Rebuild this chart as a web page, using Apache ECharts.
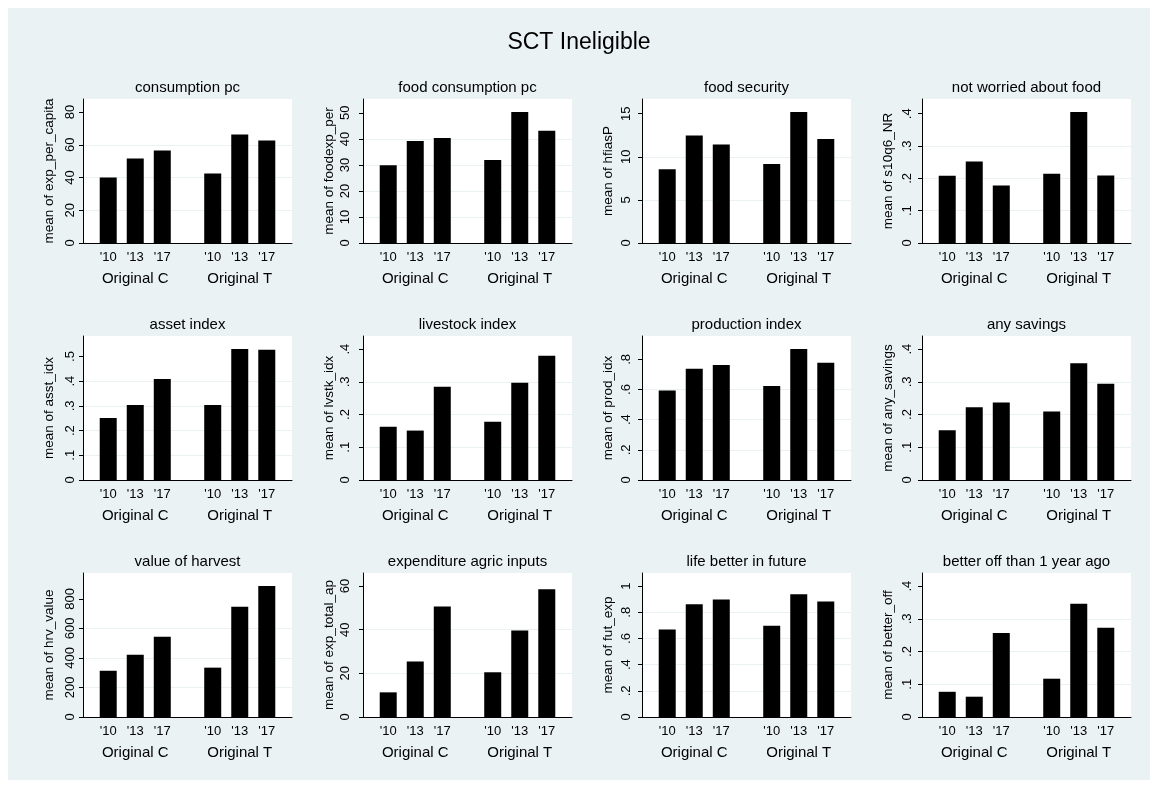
<!DOCTYPE html>
<html><head><meta charset="utf-8">
<script src="https://cdn.jsdelivr.net/npm/echarts@6/dist/echarts.min.js"></script>
<style>
html,body{margin:0;padding:0;background:#fff;width:1158px;height:787px;overflow:hidden}
#main{position:absolute;left:8px;top:8px;width:1142px;height:772px;}
</style>
</head><body><div id="main"></div>
<script>
const chartTitle = 'SCT Ineligible';
const years = ["'10", "'13", "'17"];
const groups = ['Original C', 'Original T'];
const panelTitles = ['consumption pc', 'food consumption pc', 'food security', 'not worried about food',
  'asset index', 'livestock index', 'production index', 'any savings',
  'value of harvest', 'expenditure agric inputs', 'life better in future', 'better off than 1 year ago'];
const yTitles = ['mean of exp_per_capita', 'mean of foodexp_per', 'mean of hfiasP', 'mean of s10q6_NR',
  'mean of asst_idx', 'mean of lvstk_idx', 'mean of prod_idx', 'mean of any_savings',
  'mean of hrv_value', 'mean of exp_total_ap', 'mean of fut_exp', 'mean of better_off'];

// values per panel: [Original C ['10,'13,'17], Original T ['10,'13,'17]]
const consumptionPc     = [[40.0, 51.6, 56.5], [42.4, 66.3, 62.7]];
const foodConsumptionPc = [[29.9, 39.2, 40.3], [31.9, 50.3, 43.1]];
const foodSecurity      = [[8.56, 12.46, 11.42], [9.18, 15.19, 12.07]];
const notWorried        = [[0.208, 0.252, 0.178], [0.214, 0.405, 0.209]];
const assetIndex        = [[0.251, 0.304, 0.409], [0.304, 0.530, 0.527]];
const livestockIndex    = [[0.163, 0.151, 0.285], [0.178, 0.297, 0.380]];
const productionIndex   = [[0.593, 0.738, 0.763], [0.624, 0.868, 0.778]];
const anySavings        = [[0.152, 0.222, 0.237], [0.209, 0.357, 0.294]];
const harvestValue      = [[313, 421, 543], [334, 746, 886]];
const agricInputs       = [[11.3, 25.4, 50.7], [20.5, 39.6, 58.5]];
const lifeBetter        = [[0.668, 0.861, 0.897], [0.698, 0.938, 0.882]];
const betterOff         = [[0.077, 0.062, 0.257], [0.117, 0.346, 0.273]];

// y-axis tick values and their labels
const ticksA = [0, 20, 40, 60, 80];           const labelsA = ['0', '20', '40', '60', '80'];
const ticksB = [0, 10, 20, 30, 40, 50];       const labelsB = ['0', '10', '20', '30', '40', '50'];
const ticksC = [0, 5, 10, 15];                const labelsC = ['0', '5', '10', '15'];
const ticksD = [0, 0.1, 0.2, 0.3, 0.4];       const labelsD = ['0', '.1', '.2', '.3', '.4'];
const ticksE = [0, 0.1, 0.2, 0.3, 0.4, 0.5];  const labelsE = ['0', '.1', '.2', '.3', '.4', '.5'];
const ticksF = [0, 0.2, 0.4, 0.6, 0.8];       const labelsF = ['0', '.2', '.4', '.6', '.8'];
const ticksG = [0, 200, 400, 600, 800];       const labelsG = ['0', '200', '400', '600', '800'];
const ticksH = [0, 20, 40, 60];               const labelsH = ['0', '20', '40', '60'];
const ticksI = [0, 0.2, 0.4, 0.6, 0.8, 1];    const labelsI = ['0', '.2', '.4', '.6', '.8', '1'];

const panelValues = [consumptionPc, foodConsumptionPc, foodSecurity, notWorried,
  assetIndex, livestockIndex, productionIndex, anySavings,
  harvestValue, agricInputs, lifeBetter, betterOff];
const panelTicks = [[ticksA, labelsA], [ticksB, labelsB], [ticksC, labelsC], [ticksD, labelsD],
  [ticksE, labelsE], [ticksD, labelsD], [ticksF, labelsF], [ticksD, labelsD],
  [ticksG, labelsG], [ticksH, labelsH], [ticksI, labelsI], [ticksD, labelsD]];

// layout (px inside chart div)
const FONT = 'Liberation Sans, Arial, sans-serif';
const colX = [75, 355, 634, 914];
const labelMargin = [6, 11, 9, 8];
const rowY = [91, 328, 565];
const PW = 209, PH = 144;

const grids = [], xAxes = [], yAxes = [], series = [], titles = [];
titles.push({text: chartTitle, left: 'center', top: 23, padding: 0,
  textStyle: {fontFamily: FONT, fontSize: 23, fontWeight: 'normal', color: '#000'}});

for (let i = 0; i < 12; i++) {
  const c = i % 4, r = Math.floor(i / 4);
  const vals = panelValues[i];
  const [tk, tl] = panelTicks[i];
  const dataMax = Math.max(...vals[0], ...vals[1]);
  const yMax = 1.1 * Math.max(dataMax, tk[tk.length - 1]);
  const step = tk[1] - tk[0];
  grids.push({left: colX[c], top: rowY[r], width: PW, height: PH, show: true,
    backgroundColor: '#fff', borderWidth: 0, containLabel: false});
  titles.push({text: panelTitles[i], left: colX[c] + PW / 2, top: rowY[r] - 11, padding: 0,
    textAlign: 'center', textVerticalAlign: 'middle',
    textStyle: {fontFamily: FONT, fontSize: 15, fontWeight: 'normal', color: '#000'}});
  xAxes.push({type: 'category', gridIndex: i, data: groups,
    axisLine: {show: true, lineStyle: {color: '#000', width: 1}},
    axisTick: {show: false},
    axisLabel: {margin: 28, fontFamily: FONT, fontSize: 15, color: '#000'},
    splitLine: {show: false}});
  yAxes.push({type: 'value', gridIndex: i, min: 0, max: yMax, interval: step,
    name: yTitles[i], nameLocation: 'middle', nameRotate: 90, nameGap: 27,
    nameTextStyle: {fontFamily: FONT, fontSize: 13.5, color: '#000'},
    axisLine: {show: true, lineStyle: {color: '#000', width: 1}},
    axisTick: {show: true, length: 4, lineStyle: {color: '#000'}, customValues: tk},
    axisLabel: {rotate: 90, margin: labelMargin[c], fontFamily: FONT, fontSize: 13, color: '#000',
      customValues: tk,
      formatter: (v) => { const k = tk.findIndex(t => Math.abs(t - v) < 1e-9); return k >= 0 ? tl[k] : ''; }},
    splitLine: {show: true, showMaxLine: false, lineStyle: {color: '#EAF2F3', width: 1}}});
  years.forEach((y, j) => {
    series.push({type: 'bar', name: y, xAxisIndex: i, yAxisIndex: i,
      data: [vals[0][j], vals[1][j]], barWidth: 17, barGap: '59%',
      itemStyle: {color: '#000'}, silent: true,
      label: {show: true, position: 'bottom', distance: 8, formatter: y,
        fontFamily: FONT, fontSize: 13, color: '#000'}});
  });
}

const chart = echarts.init(document.getElementById('main'), null, {renderer: 'canvas'});
chart.setOption({
  backgroundColor: '#EAF2F3',
  animation: false,
  title: titles,
  grid: grids,
  xAxis: xAxes,
  yAxis: yAxes,
  series: series
});
</script>
</body></html>
